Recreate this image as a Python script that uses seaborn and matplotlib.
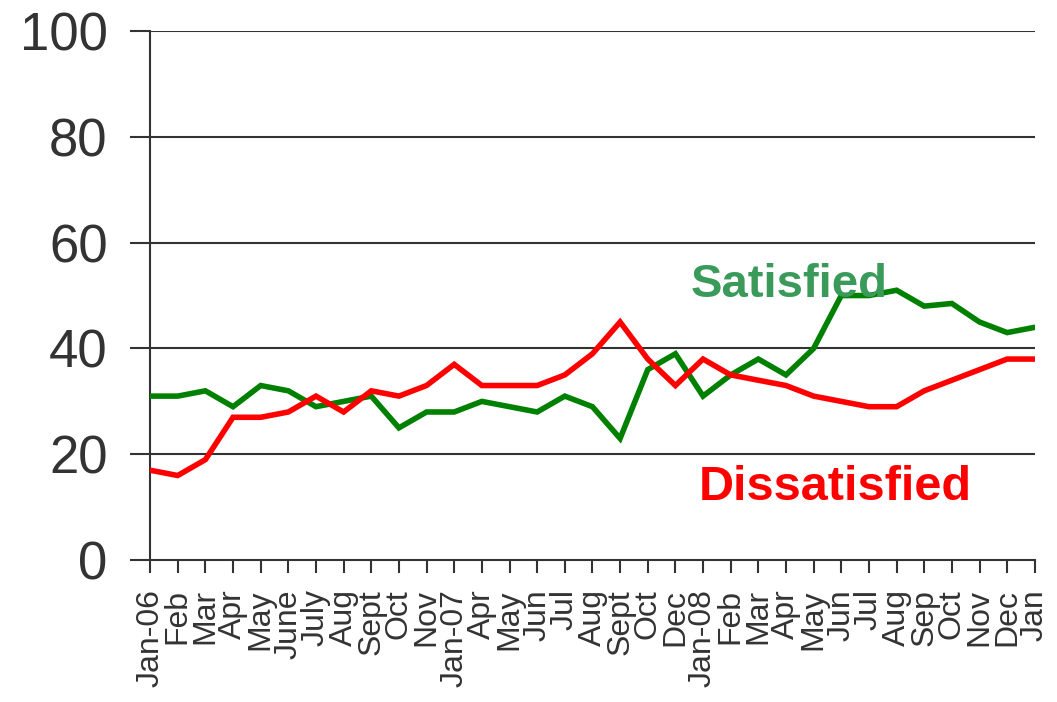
import pandas as pd
import seaborn as sns
from matplotlib import pyplot as plt

months = ["Jan-06", "Feb", "Mar", "Apr", "May", "June", "July", "Aug", "Sept", "Oct",
          "Nov", "Jan-07", "Apr", "May", "Jun", "Jul", "Aug", "Sept", "Oct", "Dec",
          "Jan-08", "Feb", "Mar", "Apr", "May", "Jun", "Jul", "Aug", "Sep", "Oct",
          "Nov", "Dec", "Jan"]
satisfied = [31, 31, 32, 29, 33, 32, 29, 30, 31, 25, 28, 28, 30, 29, 28, 31, 29,
             23, 36, 39, 31, 35, 38, 35, 40, 50, 50, 51, 48, 48.5, 45, 43, 44]
dissatisfied = [17, 16, 19, 27, 27, 28, 31, 28, 32, 31, 33, 37, 33, 33, 33, 35, 39,
                45, 38, 33, 38, 35, 34, 33, 31, 30, 29, 29, 32, 34, 36, 38, 38]

df = pd.DataFrame({
    "pos": list(range(len(months))) * 2,
    "value": satisfied + dissatisfied,
    "group": ["Satisfied"] * len(months) + ["Dissatisfied"] * len(months),
})

sns.set_style("white")
plt.rcParams["font.family"] = ["Liberation Sans", "DejaVu Sans"]

fig = plt.figure(figsize=(10.57, 7.02), dpi=100)
ax = fig.add_axes([0.142, 0.202, 0.837, 0.754])

# grid lines first so the series sit on top
for v in [20, 40, 60, 80, 100]:
    ax.axhline(v, color="#333333", lw=1.5, zorder=1)

sns.lineplot(data=df, x="pos", y="value", hue="group",
             palette={"Satisfied": "#008000", "Dissatisfied": "#ff0000"},
             legend=False, ax=ax, zorder=3)
for ln in ax.lines[5:]:
    ln.set_linewidth(4.0)
    ln.set_solid_joinstyle("miter")

ax.set_xlim(0, len(months) - 1)
ax.set_ylim(0, 100)
ax.set_yticks([0, 20, 40, 60, 80, 100])
ax.set_xticks(range(len(months)))
ax.set_xticklabels(months, rotation=90, fontsize=23, color="#333333")
ax.tick_params(axis="y", labelsize=38, colors="#333333", length=14.5, width=1.5,
               direction="out", left=True, pad=16)
ax.tick_params(axis="x", length=9, width=1.5, direction="out", bottom=True,
               colors="#333333", pad=12)
ax.set_xlabel("")
ax.set_ylabel("")
ax.spines["top"].set_visible(False)
ax.spines["right"].set_visible(False)
ax.spines["left"].set_color("#333333")
ax.spines["left"].set_linewidth(1.5)
ax.spines["bottom"].set_color("#333333")
ax.spines["bottom"].set_linewidth(1.5)

ax.text(23.1, 52, "Satisfied", color="#3a9a5a", fontsize=34, fontweight="bold",
        ha="center", va="center", zorder=4)
ax.text(24.8, 13.8, "Dissatisfied", color="#ff0000", fontsize=35, fontweight="bold",
        ha="center", va="center", zorder=4)

fig.savefig("out.png", dpi=100)
